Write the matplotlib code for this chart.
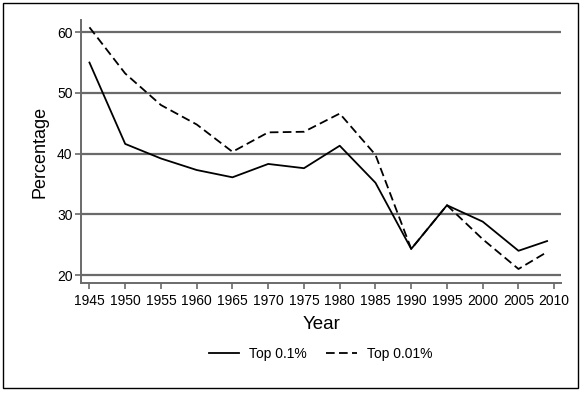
import matplotlib
matplotlib.use('Agg')
import matplotlib.pyplot as plt
from matplotlib.patches import Rectangle

plt.rcParams['font.family'] = ['Liberation Sans', 'DejaVu Sans']

# values
years = [1945, 1950, 1955, 1960, 1965, 1970, 1975, 1980, 1985, 1990, 1995, 2000, 2005, 2009]
top_01 = [55.0, 41.6, 39.2, 37.3, 36.1, 38.3, 37.6, 41.3, 35.2, 24.3, 31.5, 28.8, 24.0, 25.6]
top_001 = [60.8, 53.2, 48.0, 44.8, 40.3, 43.5, 43.6, 46.6, 39.8, 24.3, 31.5, 25.9, 21.0, 23.8]
xticks = list(range(1945, 2011, 5))
yticks = [20, 30, 40, 50, 60]

fig = plt.figure(figsize=(5.86, 3.93), dpi=100)
ax = fig.add_axes([0.138, 0.28, 0.82, 0.669])

grid_color = '#6a6a6a'
for v in yticks:
    ax.axhline(v, color=grid_color, lw=1.6, zorder=1)

ax.plot(years, top_01, color='black', lw=1.3, label='Top 0.1%', zorder=3)
ax.plot(years, top_001, color='black', lw=1.3, dashes=(4.8, 2.4), label='Top 0.01%', zorder=3)

ax.set_xlim(1943.8, 2011)
ax.set_ylim(18.7, 62)
ax.set_xticks(xticks)
ax.set_yticks(yticks)
ax.tick_params(axis='both', direction='out', length=4, width=1.2, color=grid_color,
               labelsize=10)
ax.tick_params(axis='x', pad=4)
ax.tick_params(axis='y', pad=2)

for side in ['top', 'right']:
    ax.spines[side].set_visible(False)
for side in ['left', 'bottom']:
    ax.spines[side].set_color(grid_color)
    ax.spines[side].set_linewidth(1.4)

ax.set_xlabel('Year', fontsize=13.5, labelpad=6)
ax.set_ylabel('Percentage', fontsize=13, labelpad=6)

# legend centred under the plot area
fig.legend(loc='center', bbox_to_anchor=(0.547, 0.099), ncol=2, frameon=False,
           fontsize=10, handlelength=2.2, columnspacing=1.4, handletextpad=0.7)

# outer frame around the whole graph
fig.patches.append(Rectangle((3 / 586, 5 / 393), 575 / 586, 385 / 393,
                             transform=fig.transFigure, fill=False,
                             edgecolor='black', lw=1.0))

fig.savefig('out.png', dpi=100)
